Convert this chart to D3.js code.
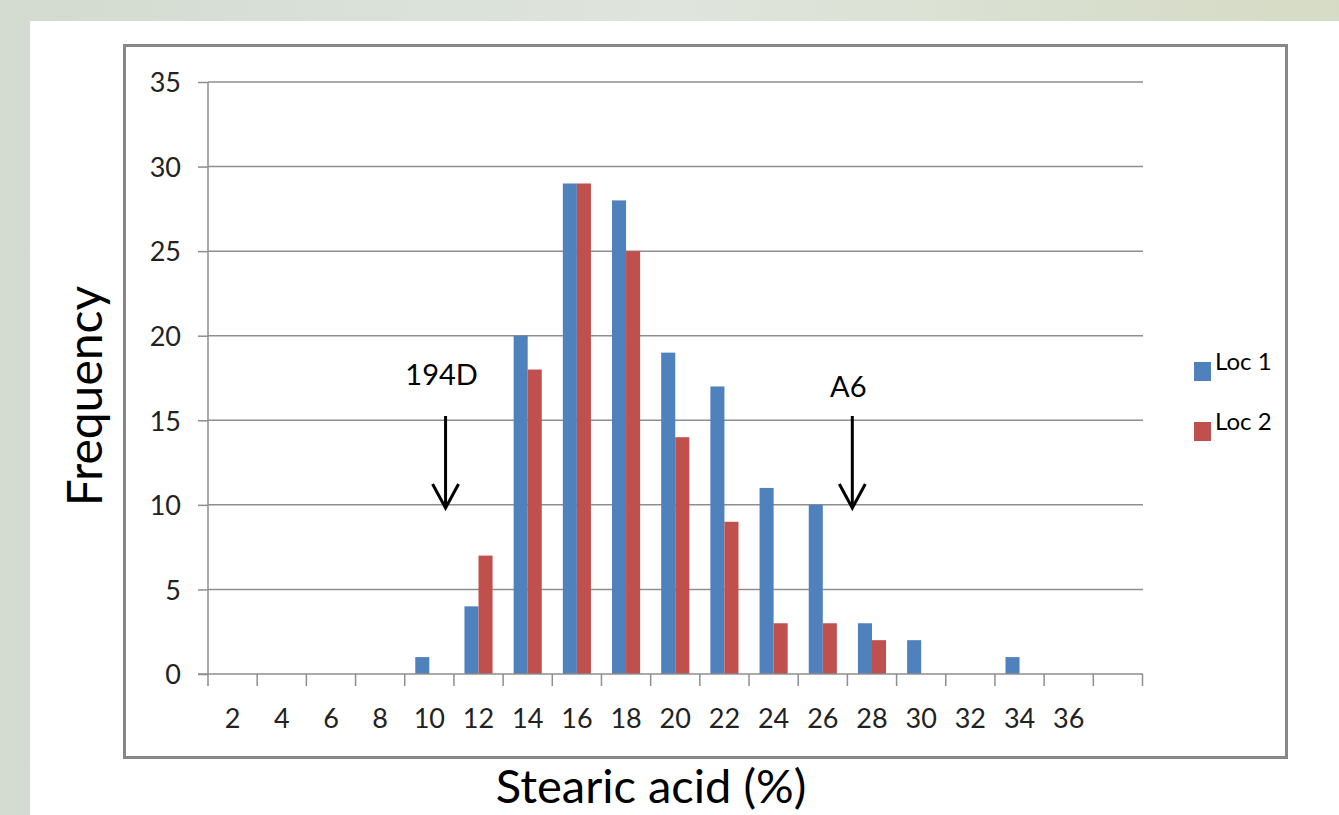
<!DOCTYPE html>
<html>
<head>
<meta charset="utf-8">
<script src="https://cdn.jsdelivr.net/npm/d3@7"></script>
<style>
  html, body { margin: 0; padding: 0; overflow: hidden; }
  svg { display: block; font-family: Lato, "Open Sans", sans-serif; }
</style>
</head>
<body>
<div id="chart"></div>
<script>
// histogram bins (last bin has no label in the original)
var categories = ["2", "4", "6", "8", "10", "12", "14", "16", "18", "20", "22", "24", "26", "28", "30", "32", "34", "36", ""];
var loc1 = [0, 0, 0, 0, 1, 4, 20, 29, 28, 19, 17, 11, 10, 3, 2, 0, 1, 0, 0];
var loc2 = [0, 0, 0, 0, 0, 7, 18, 29, 25, 14, 9, 3, 3, 2, 0, 0, 0, 0, 0];
var seriesNames = ["Loc 1", "Loc 2"];
var yTicks = [0, 5, 10, 15, 20, 25, 30, 35];

var width = 1339;
var height = 815;
var colors = ["#4f81bd", "#c0504d"];

var svg = d3.select("#chart").append("svg")
    .attr("width", width)
    .attr("height", height);

// slide background
var defs = svg.append("defs");
var grad = defs.append("linearGradient").attr("id", "bg")
    .attr("x1", "0").attr("y1", "0").attr("x2", "1").attr("y2", "0");
grad.append("stop").attr("offset", "0").attr("stop-color", "#d3dbd1");
grad.append("stop").attr("offset", "0.5").attr("stop-color", "#dfe5dd");
grad.append("stop").attr("offset", "1").attr("stop-color", "#d5dbc4");
svg.append("rect").attr("width", width).attr("height", height).attr("fill", "url(#bg)");

// white panel
svg.append("rect").attr("x", 30).attr("y", 21).attr("width", width - 30).attr("height", height - 21)
    .attr("fill", "#fff");

// chart frame
svg.append("rect").attr("x", 124.5).attr("y", 45.5).attr("width", 1162).attr("height", 712)
    .attr("fill", "#fff").attr("stroke", "#878787").attr("stroke-width", 3);

var x = d3.scaleBand().domain(categories).range([208, 1142.5]).paddingInner(0).paddingOuter(0);
var xs = d3.scaleBand().domain(seriesNames).range([0, x.bandwidth()]).paddingInner(0).paddingOuter(0.75);
var y = d3.scaleLinear().domain([0, 35]).range([674, 82]);

// gridlines
svg.append("g").selectAll("line").data(yTicks.slice(1)).enter().append("line")
    .attr("x1", 208).attr("x2", 1143)
    .attr("y1", function (d) { return y(d); })
    .attr("y2", function (d) { return y(d); })
    .attr("stroke", "#8e8e8e").attr("stroke-width", 1.5);

// bars
var data = categories.map(function (c, i) { return { cat: c, vals: [loc1[i], loc2[i]] }; });
var groups = svg.append("g").selectAll("g").data(data).enter().append("g")
    .attr("transform", function (d) { return "translate(" + x(d.cat) + ",0)"; });
groups.selectAll("rect").data(function (d) {
        return d.vals.map(function (v, j) { return { s: seriesNames[j], v: v, j: j }; });
    }).enter().append("rect")
    .attr("x", function (d) { return xs(d.s); })
    .attr("width", xs.bandwidth())
    .attr("y", function (d) { return y(d.v); })
    .attr("height", function (d) { return y(0) - y(d.v); })
    .attr("fill", function (d) { return colors[d.j]; });

// y axis
var yAxis = d3.axisLeft(y).tickValues(yTicks).tickSize(10).tickPadding(17);
var gy = svg.append("g").attr("transform", "translate(208,0)").call(yAxis);
gy.select(".domain").attr("stroke", "#8e8e8e").attr("stroke-width", 1.5).attr("d", "M0," + y(35) + "V" + y(0));
gy.selectAll(".tick line").attr("stroke", "#8e8e8e").attr("stroke-width", 1.5);
gy.selectAll("text").attr("font-size", 27).attr("fill", "#222").attr("font-family", "Lato, sans-serif")
    .attr("dy", "0.36em");

// x axis
var xAxis = d3.axisBottom(x).tickSize(0).tickPadding(0);
var gx = svg.append("g").attr("transform", "translate(0," + y(0) + ")").call(xAxis);
gx.select(".domain").attr("stroke", "#8e8e8e").attr("stroke-width", 1.5).attr("d", "M198,0H1143");
gx.selectAll("text").attr("font-size", 27).attr("fill", "#222").attr("font-family", "Lato, sans-serif")
    .attr("y", 54).attr("dy", 0);
// tick marks at band edges
var edges = categories.map(function (c) { return x(c); }).concat([x.range()[1]]);
gx.selectAll(".edge").data(edges).enter().append("line")
    .attr("class", "edge")
    .attr("x1", function (d) { return d; }).attr("x2", function (d) { return d; })
    .attr("y1", 0).attr("y2", 12)
    .attr("stroke", "#8e8e8e").attr("stroke-width", 1.5);

// axis titles
svg.append("text")
    .attr("transform", "translate(102,396) rotate(-90)")
    .attr("text-anchor", "middle")
    .attr("font-size", 48).attr("fill", "#000")
    .text("Frequency");
svg.append("text")
    .attr("x", 651).attr("y", 803)
    .attr("text-anchor", "middle")
    .attr("font-size", 47).attr("fill", "#000")
    .text("Stearic acid (%)");

// legend
var legend = svg.append("g").selectAll("g").data(seriesNames).enter().append("g")
    .attr("transform", function (d, i) { return "translate(1194," + (362 + i * 60) + ")"; });
legend.append("rect").attr("width", 17).attr("height", 19)
    .attr("fill", function (d, i) { return colors[i]; });
legend.append("text").attr("x", 21).attr("y", 8)
    .attr("font-size", 24).attr("fill", "#000")
    .text(function (d) { return d; });

// annotations
var annotations = [
    { label: "194D", cat: "10", frac: 0.83, textY: 385 },
    { label: "A6", cat: "28", frac: 0.1, textY: 397 }
];
var ann = svg.append("g").selectAll("g").data(annotations).enter().append("g")
    .attr("transform", function (d) { return "translate(" + (x(d.cat) + d.frac * x.bandwidth()) + ",0)"; });
ann.append("text")
    .attr("x", -4).attr("y", function (d) { return d.textY; })
    .attr("text-anchor", "middle")
    .attr("font-size", 29).attr("fill", "#000")
    .text(function (d) { return d.label; });
ann.append("line")
    .attr("x1", 0).attr("x2", 0).attr("y1", 416).attr("y2", 507)
    .attr("stroke", "#000").attr("stroke-width", 3);
ann.append("path")
    .attr("d", "M-13,484L0,508L13,484")
    .attr("fill", "none").attr("stroke", "#000").attr("stroke-width", 3);
</script>
</body>
</html>
